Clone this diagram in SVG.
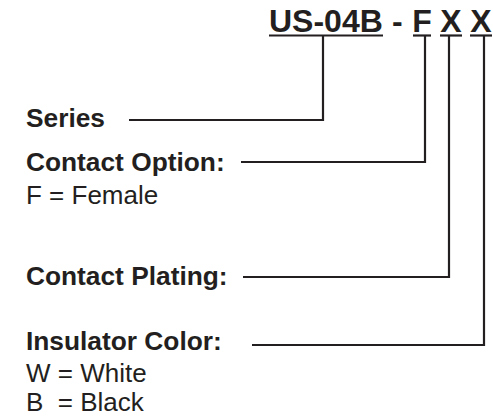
<svg xmlns="http://www.w3.org/2000/svg" width="493" height="417" viewBox="0 0 493 417">
<style>
.b{font-family:"Liberation Sans",Arial,sans-serif;font-weight:bold;font-size:26.3px;fill:#231f20}
.r{font-family:"Liberation Sans",Arial,sans-serif;font-size:26px;fill:#231f20}
.h{font-family:"Liberation Sans",Arial,sans-serif;font-weight:bold;font-size:32px;fill:#231f20}
.ln{fill:none;stroke:#231f20;stroke-width:2.2;stroke-linecap:butt;stroke-linejoin:miter}
</style>
<rect width="493" height="417" fill="#fff"/>
<g id="part-number">
<text class="h" x="269" y="32">US-04B</text>
<text class="h" x="392" y="32">-</text>
<text class="h" x="422" y="32" text-anchor="middle">F</text>
<text class="h" x="451" y="32" text-anchor="middle">X</text>
<text class="h" x="481" y="32" text-anchor="middle">X</text>
<g class="ln">
<line x1="269" y1="35.5" x2="383" y2="35.5"/>
<line x1="413" y1="35.5" x2="431" y2="35.5"/>
<line x1="440" y1="35.5" x2="462" y2="35.5"/>
<line x1="470" y1="35.5" x2="492" y2="35.5"/>
</g>
</g>
<g id="series"><text class="b" x="26" y="127">Series</text></g>
<g id="contact-option"><text class="b" x="26" y="171">Contact Option:</text><text class="r" x="26" y="204">F = Female</text></g>
<g id="contact-plating"><text class="b" x="26" y="285">Contact Plating:</text></g>
<g id="insulator-color"><text class="b" x="26" y="350">Insulator Color:</text><text class="r" x="26" y="382">W = White</text><text class="r" x="26" y="411" xml:space="preserve">B  = Black</text></g>
<g id="connectors" class="ln">
<polyline points="129,120 323,120 323,36"/>
<polyline points="241,162 425,162 425,36"/>
<polyline points="243,277 449,277 449,36"/>
<polyline points="252,345 484,345 484,36"/>
</g>
</svg>
